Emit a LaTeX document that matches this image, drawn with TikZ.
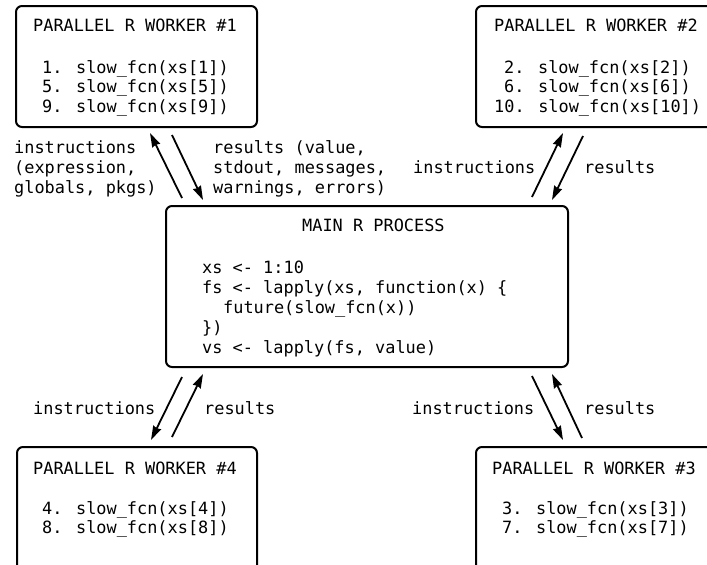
\documentclass[tikz,border=0pt]{standalone}
\usepackage{fontspec}
\setmainfont{DejaVu Sans Mono}
\usetikzlibrary{arrows.meta}
\begin{document}
\begin{tikzpicture}[x=1pt,y=-1pt,
  box/.style={draw=black,line width=2pt,rounded corners=6pt,inner sep=0pt,fill=white},
  txt/.style={anchor=base west,inner sep=0pt,font=\fontsize{16.9}{20}\selectfont},
  arr/.style={line width=1.8pt,-{Stealth[length=14pt,width=8.5pt,inset=1pt]}}]
\useasboundingbox (0,0) rectangle (707,565);
\clip (0,0) rectangle (707,565);
\fill[white] (0,0) rectangle (707,565);
% boxes
\node[box,minimum width=241pt,minimum height=121pt] (w1) at (136.5,66.5) {};
\node[box,minimum width=260pt,minimum height=121pt] (w2) at (606,66.5) {};
\node[box,minimum width=402pt,minimum height=161pt] (main) at (367,286.5) {};
\node[box,minimum width=240pt,minimum height=160pt] (w4) at (137,527) {};
\node[box,minimum width=260pt,minimum height=160pt] (w3) at (606,527) {};
% worker 1
\node[txt] (w1t) at (33,31) {PARALLEL R WORKER \#1};
\node[txt] (w1a) at (42,73) {1. slow\_fcn(xs[1])};
\node[txt] (w1b) at (42,92.5) {5. slow\_fcn(xs[5])};
\node[txt] (w1c) at (42,112) {9. slow\_fcn(xs[9])};
% worker 2
\node[txt] (w2t) at (494,31) {PARALLEL R WORKER \#2};
\node[txt] (w2a) at (504,73) {2. slow\_fcn(xs[2])};
\node[txt] (w2b) at (504,92.5) {6. slow\_fcn(xs[6])};
\node[txt] (w2c) at (494,112) {10. slow\_fcn(xs[10])};
% main
\node[txt] (mt) at (302,231) {MAIN R PROCESS};
\node[txt] (m1) at (202,273) {xs <- 1:10};
\node[txt] (m2) at (202,293) {fs <- lapply(xs, function(x) \{};
\node[txt] (m3) at (223,313) {future(slow\_fcn(x))};
\node[txt] (m4) at (202,333) {\})};
\node[txt] (m5) at (202,353) {vs <- lapply(fs, value)};
% worker 4
\node[txt] (w4t) at (33,474) {PARALLEL R WORKER \#4};
\node[txt] (w4a) at (42,514) {4. slow\_fcn(xs[4])};
\node[txt] (w4b) at (42,533.5) {8. slow\_fcn(xs[8])};
% worker 3
\node[txt] (w3t) at (492,474) {PARALLEL R WORKER \#3};
\node[txt] (w3a) at (502,514) {3. slow\_fcn(xs[3])};
\node[txt] (w3b) at (502,533.5) {7. slow\_fcn(xs[7])};
% labels
\node[txt] (l1a) at (14,153) {instructions};
\node[txt] (l1b) at (14,173) {(expression,};
\node[txt] (l1c) at (14,193) {globals, pkgs)};
\node[txt] (r1a) at (213,153) {results (value,};
\node[txt] (r1b) at (213,173) {stdout, messages,};
\node[txt] (r1c) at (213,193) {warnings, errors)};
\node[txt] (l2) at (413,173) {instructions};
\node[txt] (r2) at (584,173) {results};
\node[txt] (l4) at (33,414) {instructions};
\node[txt] (r4) at (204,414) {results};
\node[txt] (l3) at (412,414) {instructions};
\node[txt] (r3) at (584,414) {results};
% arrow endpoints
\coordinate (a1u0) at (182,198); \coordinate (a1u1) at (150,133);
\coordinate (a1d0) at (172,135); \coordinate (a1d1) at (203,200);
\coordinate (a2u0) at (532,197); \coordinate (a2u1) at (563,133);
\coordinate (a2d0) at (583,136); \coordinate (a2d1) at (552,200);
\coordinate (a4d0) at (182,377); \coordinate (a4d1) at (151,440);
\coordinate (a4u0) at (172,437); \coordinate (a4u1) at (203,374);
\coordinate (a3d0) at (532,376); \coordinate (a3d1) at (563,440);
\coordinate (a3u0) at (582,438); \coordinate (a3u1) at (552,374);
\draw[arr] (a1u0) -- (a1u1);
\draw[arr] (a1d0) -- (a1d1);
\draw[arr] (a2u0) -- (a2u1);
\draw[arr] (a2d0) -- (a2d1);
\draw[arr] (a4d0) -- (a4d1);
\draw[arr] (a4u0) -- (a4u1);
\draw[arr] (a3d0) -- (a3d1);
\draw[arr] (a3u0) -- (a3u1);
\end{tikzpicture}
\end{document}
